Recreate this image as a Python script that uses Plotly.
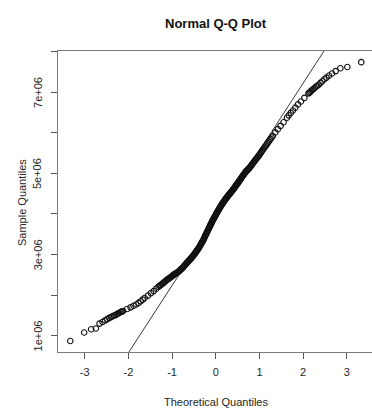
import plotly.graph_objects as go
import numpy as np
from statistics import NormalDist

# ---- data (sample quantiles, in millions, at selected ranks of n observations) ----
n_obs = 1150

lower_ranks = list(range(1, 21)) + [25, 30, 35, 40, 45, 50, 55, 60, 70, 80, 90, 100]
lower_vals = [0.87, 1.08, 1.16, 1.18, 1.30, 1.34, 1.38, 1.41, 1.44, 1.46,
              1.48, 1.50, 1.51, 1.53, 1.55, 1.56, 1.58, 1.59, 1.60, 1.61,
              1.66, 1.70, 1.74, 1.77, 1.81, 1.85, 1.89, 1.93, 1.99, 2.05, 2.10, 2.16]

mid_ranks = list(range(110, 1041, 10))
mid_vals = [2.21, 2.25, 2.29, 2.33, 2.37, 2.40, 2.43, 2.46, 2.49, 2.52,
            2.54, 2.56, 2.59, 2.62, 2.65, 2.68, 2.72, 2.75, 2.785, 2.82,
            2.85, 2.88, 2.91, 2.945, 2.975, 3.01, 3.05, 3.085, 3.12, 3.155,
            3.20, 3.245, 3.29, 3.33, 3.375, 3.43, 3.48, 3.53, 3.58, 3.63,
            3.68, 3.73, 3.775, 3.825, 3.87, 3.91, 3.955, 3.995, 4.04, 4.08,
            4.12, 4.16, 4.20, 4.235, 4.275, 4.31, 4.34, 4.375, 4.405, 4.44,
            4.47, 4.50, 4.53, 4.56, 4.59, 4.625, 4.66, 4.70, 4.735, 4.77,
            4.81, 4.85, 4.89, 4.93, 4.97, 5.01, 5.05, 5.08, 5.115, 5.15,
            5.19, 5.235, 5.28, 5.325, 5.37, 5.42, 5.47, 5.53, 5.59, 5.65,
            5.71, 5.78, 5.85, 5.92]

band_ranks = list(range(115, 1036, 10))
band_vals = [2.23, 2.27, 2.31, 2.35, 2.385, 2.415, 2.445, 2.475, 2.505, 2.53,
             2.55, 2.575, 2.605, 2.635, 2.665, 2.70, 2.735, 2.77, 2.80, 2.835,
             2.865, 2.895, 2.93, 2.96, 2.99, 3.03, 3.065, 3.10, 3.14, 3.18,
             3.22, 3.27, 3.31, 3.35, 3.40, 3.455, 3.505, 3.555, 3.605, 3.655,
             3.705, 3.75, 3.80, 3.85, 3.89, 3.935, 3.975, 4.02, 4.06, 4.10,
             4.14, 4.18, 4.22, 4.255, 4.29, 4.325, 4.36, 4.39, 4.42, 4.455,
             4.485, 4.515, 4.545, 4.575, 4.61, 4.645, 4.68, 4.72, 4.75, 4.79,
             4.83, 4.87, 4.91, 4.95, 4.99, 5.03, 5.065, 5.10, 5.13, 5.17,
             5.21, 5.26, 5.30, 5.35, 5.395, 5.445, 5.50, 5.56, 5.62, 5.68,
             5.745, 5.815, 5.885]

upper_ranks = [1051, 1061, 1071, 1081, 1091, 1096, 1101, 1106, 1111, 1116, 1121, 1126] + list(range(1131, 1151))
upper_vals = [6.01, 6.09, 6.17, 6.26, 6.37, 6.43, 6.49, 6.55, 6.62, 6.70, 6.77, 6.86,
              6.97, 6.99, 7.01, 7.04, 7.06, 7.08, 7.11, 7.14, 7.16, 7.19,
              7.23, 7.27, 7.32, 7.36, 7.41, 7.46, 7.52, 7.59, 7.62, 7.74]

x_ticks = [-3, -2, -1, 0, 1, 2, 3]
y_ticks = [1e6, 2e6, 3e6, 4e6, 5e6, 6e6, 7e6, 8e6]
y_label_vals = [1e6, 3e6, 5e6, 7e6]
y_label_text = ["1e+06", "3e+06", "5e+06", "7e+06"]

# ---- derived ----
all_r = lower_ranks + mid_ranks + band_ranks + upper_ranks
all_v = lower_vals + mid_vals + band_vals + upper_vals
order = np.argsort(all_r)
ranks = np.array(all_r, dtype=float)[order]
sample = np.array(all_v)[order] * 1e6
nd = NormalDist()
theo = np.array([nd.inv_cdf((r - 0.5) / n_obs) for r in ranks])

# qqline through the quartiles (R type-7 quantiles)
h1 = (n_obs - 1) * 0.25 + 1
h3 = (n_obs - 1) * 0.75 + 1
q1y, q3y = np.interp([h1, h3], ranks, sample)
q1x, q3x = nd.inv_cdf(0.25), nd.inv_cdf(0.75)
slope = (q3y - q1y) / (q3x - q1x)
intercept = q1y - slope * q1x
line_x = np.array([-5.0, 5.0])
line_y = intercept + slope * line_x

FONT = "Liberation Sans, Arial, sans-serif"
TXT = "#262626"

fig = go.Figure()
fig.add_trace(go.Scatter(x=line_x, y=line_y, mode="lines",
                         line=dict(color="#3a3a3a", width=1), hoverinfo="skip"))
fig.add_trace(go.Scatter(x=theo, y=sample, mode="markers",
                         marker=dict(symbol="circle-open", size=5.5, color="#111111",
                                     line=dict(width=1.1, color="#111111")),
                         cliponaxis=False))

annotations = [
    dict(text="<b>Normal Q-Q Plot</b>", xref="paper", yref="paper",
         x=0.503, y=1.093, xanchor="center", yanchor="middle",
         showarrow=False, font=dict(size=13, color="#111111", family=FONT)),
    dict(text="Theoretical Quantiles", xref="paper", yref="paper",
         x=0.503, y=-0.166, xanchor="center", yanchor="middle",
         showarrow=False, font=dict(size=11, color=TXT, family=FONT)),
    dict(text="Sample Quantiles", xref="paper", yref="paper",
         x=-0.1146, y=0.495, xanchor="center", yanchor="middle",
         textangle=-90, showarrow=False,
         font=dict(size=11, color=TXT, family=FONT)),
]
for v, t in zip(y_label_vals, y_label_text):
    annotations.append(dict(text=t, xref="paper", yref="y", x=-0.0646, y=v,
                            xanchor="center", yanchor="middle", textangle=-90,
                            showarrow=False,
                            font=dict(size=11, color=TXT, family=FONT)))

fig.update_layout(
    width=372, height=412,
    margin=dict(l=58, r=0, t=51, b=60),
    paper_bgcolor="white", plot_bgcolor="white",
    showlegend=False,
    font=dict(family=FONT, color=TXT, size=11),
    xaxis=dict(range=[-3.61, 3.575], tickvals=x_ticks,
               ticktext=[str(v) for v in x_ticks],
               showgrid=False, zeroline=False,
               showline=True, mirror=True, linecolor="#7a7a7a", linewidth=1,
               ticks="outside", ticklen=6, tickcolor="#555555", tickwidth=1,
               ticklabelstandoff=4,
               tickfont=dict(size=11, color=TXT, family=FONT)),
    yaxis=dict(range=[0.60e6, 8.015e6], tickvals=y_ticks,
               showticklabels=False,
               showgrid=False, zeroline=False,
               showline=True, linecolor="#7a7a7a", linewidth=1,
               ticks="outside", ticklen=6, tickcolor="#555555", tickwidth=1),
    annotations=annotations,
)

fig.write_html("out.html")
